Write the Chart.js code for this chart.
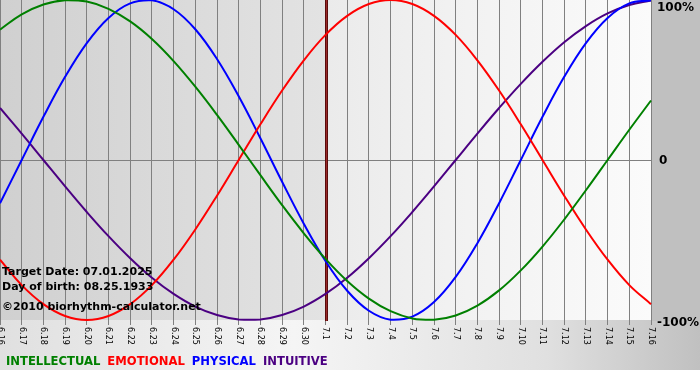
<!DOCTYPE html>
<html><head><meta charset="utf-8">
<script src="https://cdn.jsdelivr.net/npm/chart.js@4.4.0/dist/chart.umd.min.js"></script>
<style>html,body{margin:0;padding:0;background:#fff;}#wrap{width:700px;height:380px;}</style>
</head><body><div id="wrap"><canvas id="c" width="700" height="380"></canvas></div>
<script>
const dates = ['6.16','6.17','6.18','6.19','6.20','6.21','6.22','6.23','6.24','6.25','6.26','6.27','6.28','6.29','6.30','7.1','7.2','7.3','7.4','7.5','7.6','7.7','7.8','7.9','7.10','7.11','7.12','7.13','7.14','7.15','7.16'];
const intellectual = [81.5,91.0,97.2,99.9,99.0,94.5,86.6,75.6,61.8,45.8,28.2,9.5,-9.5,-28.2,-45.8,-61.8,-75.6,-86.6,-94.5,-99.0,-99.9,-97.2,-91.0,-81.5,-69.0,-54.1,-37.2,-18.9,0,18.9,37.2];
const emotional = [-62.3,-78.2,-90.1,-97.5,-100,-97.5,-90.1,-78.2,-62.3,-43.4,-22.3,0,22.3,43.4,62.3,78.2,90.1,97.5,100,97.5,90.1,78.2,62.3,43.4,22.3,0,-22.3,-43.4,-62.3,-78.2,-90.1];
const physical = [-27.0,0,27.0,52.0,73.1,88.8,97.9,99.8,94.2,81.7,63.1,39.8,13.6,-13.6,-39.8,-63.1,-81.7,-94.2,-99.8,-97.9,-88.8,-73.1,-52.0,-27.0,0,27.0,52.0,73.1,88.8,97.9,99.8];
const intuitive = [32.5,16.5,0,-16.5,-32.5,-47.6,-61.4,-73.6,-83.7,-91.6,-96.9,-99.7,-99.7,-96.9,-91.6,-83.7,-73.6,-61.4,-47.6,-32.5,-16.5,0,16.5,32.5,47.6,61.4,73.6,83.7,91.6,96.9,99.7];
const seriesNames = ['INTELLECTUAL','EMOTIONAL','PHYSICAL','INTUITIVE'];
const seriesColors = ['#008000','#ff0000','#0000ff','#4b0082'];
const targetDate = '7.1';
const yTickValues = [100,0,-100];
const yTickLabels = ['100%','0','-100%'];
const infoLines = ['Target Date: 07.01.2025','Day of birth: 08.25.1933','\u00A92010 biorhythm-calculator.net'];

const bgPlugin = {
  id:'bg',
  beforeDraw(chart){
    const ctx = chart.ctx, a = chart.chartArea, xs = chart.scales.x;
    ctx.save();
    const g = ctx.createLinearGradient(0,0,700,0);
    g.addColorStop(0,'#e0e0e0'); g.addColorStop(0.42,'#f5f5f5'); g.addColorStop(0.78,'#e0e0e0'); g.addColorStop(1,'#c0c0c0');
    ctx.fillStyle = g; ctx.fillRect(0,0,700,370);
    ctx.fillStyle = '#c0c0c0'; ctx.fillRect(a.right, 0, 700-a.right, a.bottom+1);
    const xt = xs.getPixelForValue(dates.indexOf(targetDate));
    const g1 = ctx.createLinearGradient(a.left,0,xt,0);
    g1.addColorStop(0,'#d0d0d0'); g1.addColorStop(1,'#e3e3e3');
    ctx.fillStyle = g1; ctx.fillRect(a.left,a.top,xt-a.left,a.bottom-a.top);
    const g2 = ctx.createLinearGradient(xt,0,a.right,0);
    g2.addColorStop(0,'#ebebeb'); g2.addColorStop(1,'#fbfbfb');
    ctx.fillStyle = g2; ctx.fillRect(xt,a.top,a.right-xt,a.bottom-a.top);
    ctx.restore();
  },
  beforeDatasetsDraw(chart){
    const ctx = chart.ctx, a = chart.chartArea, xs = chart.scales.x;
    const xt = xs.getPixelForValue(dates.indexOf(targetDate));
    ctx.save();
    ctx.fillStyle = '#5a0c0c'; ctx.fillRect(Math.round(xt)-1, a.top, 3, a.bottom-a.top+1);
    ctx.fillStyle = '#9a2a2a'; ctx.fillRect(Math.round(xt), a.top, 1, a.bottom-a.top+1);
    ctx.restore();
  },
  afterDraw(chart){
    const ctx = chart.ctx, a = chart.chartArea, xs = chart.scales.x, ys = chart.scales.y;
    ctx.save();
    // x tick labels rotated clockwise
    ctx.fillStyle = '#000'; ctx.font = '8px "DejaVu Sans"';
    ctx.textAlign = 'left'; ctx.textBaseline = 'middle';
    dates.forEach((d,i)=>{
      const x = xs.getPixelForValue(i);
      ctx.save(); ctx.translate(x, a.bottom+7); ctx.rotate(Math.PI/2); ctx.fillText(d,0,0); ctx.restore();
    });
    // right labels
    ctx.font = 'bold 12px "DejaVu Sans"'; ctx.textBaseline = 'middle';
    yTickValues.forEach((v,i)=>{
      let y = ys.getPixelForValue(v);
      if (v===100) y += 7; if (v===-100) y += 2;
      ctx.fillText(yTickLabels[i], a.right+(v===0?8:6), y+1);
    });
    // info text
    ctx.font = 'bold 11px "DejaVu Sans"'; ctx.textBaseline = 'middle';
    const ys0 = [272,287,307];
    infoLines.forEach((t,i)=>ctx.fillText(t, 2, ys0[i]));
    // legend
    ctx.font = 'bold 11.6px "DejaVu Sans"';
    let lx = 6;
    seriesNames.forEach((n,i)=>{
      ctx.fillStyle = seriesColors[i]; ctx.fillText(n, lx, 362);
      lx += ctx.measureText(n).width + 7;
    });
    ctx.restore();
  }
};

const allSeries = [intellectual, emotional, physical, intuitive];
new Chart(document.getElementById('c'), {
  type:'line',
  data:{ labels: dates, datasets: allSeries.map((s,i)=>({
    label: seriesNames[i], data: s, borderColor: seriesColors[i], backgroundColor: seriesColors[i],
    borderWidth: 2, pointRadius: 0, tension: 0.4, fill: false, clip: false
  }))},
  options:{
    responsive:false, animation:false, devicePixelRatio:1,
    layout:{ padding:{ left:0, right:49, top:0, bottom:55 } },
    plugins:{ legend:{display:false}, tooltip:{enabled:false} },
    scales:{
      x:{ offset:false, grid:{ color:'#808080', lineWidth:1, tickLength:5, drawTicks:true }, border:{display:false}, ticks:{display:false} },
      y:{ min:-100, max:100, ticks:{display:false, stepSize:100}, border:{display:false},
          grid:{ drawTicks:false, color:(c)=> (c.tick && c.tick.value===0) ? '#808080' : 'rgba(0,0,0,0)' } }
    }
  },
  plugins:[bgPlugin]
});
</script></body></html>
